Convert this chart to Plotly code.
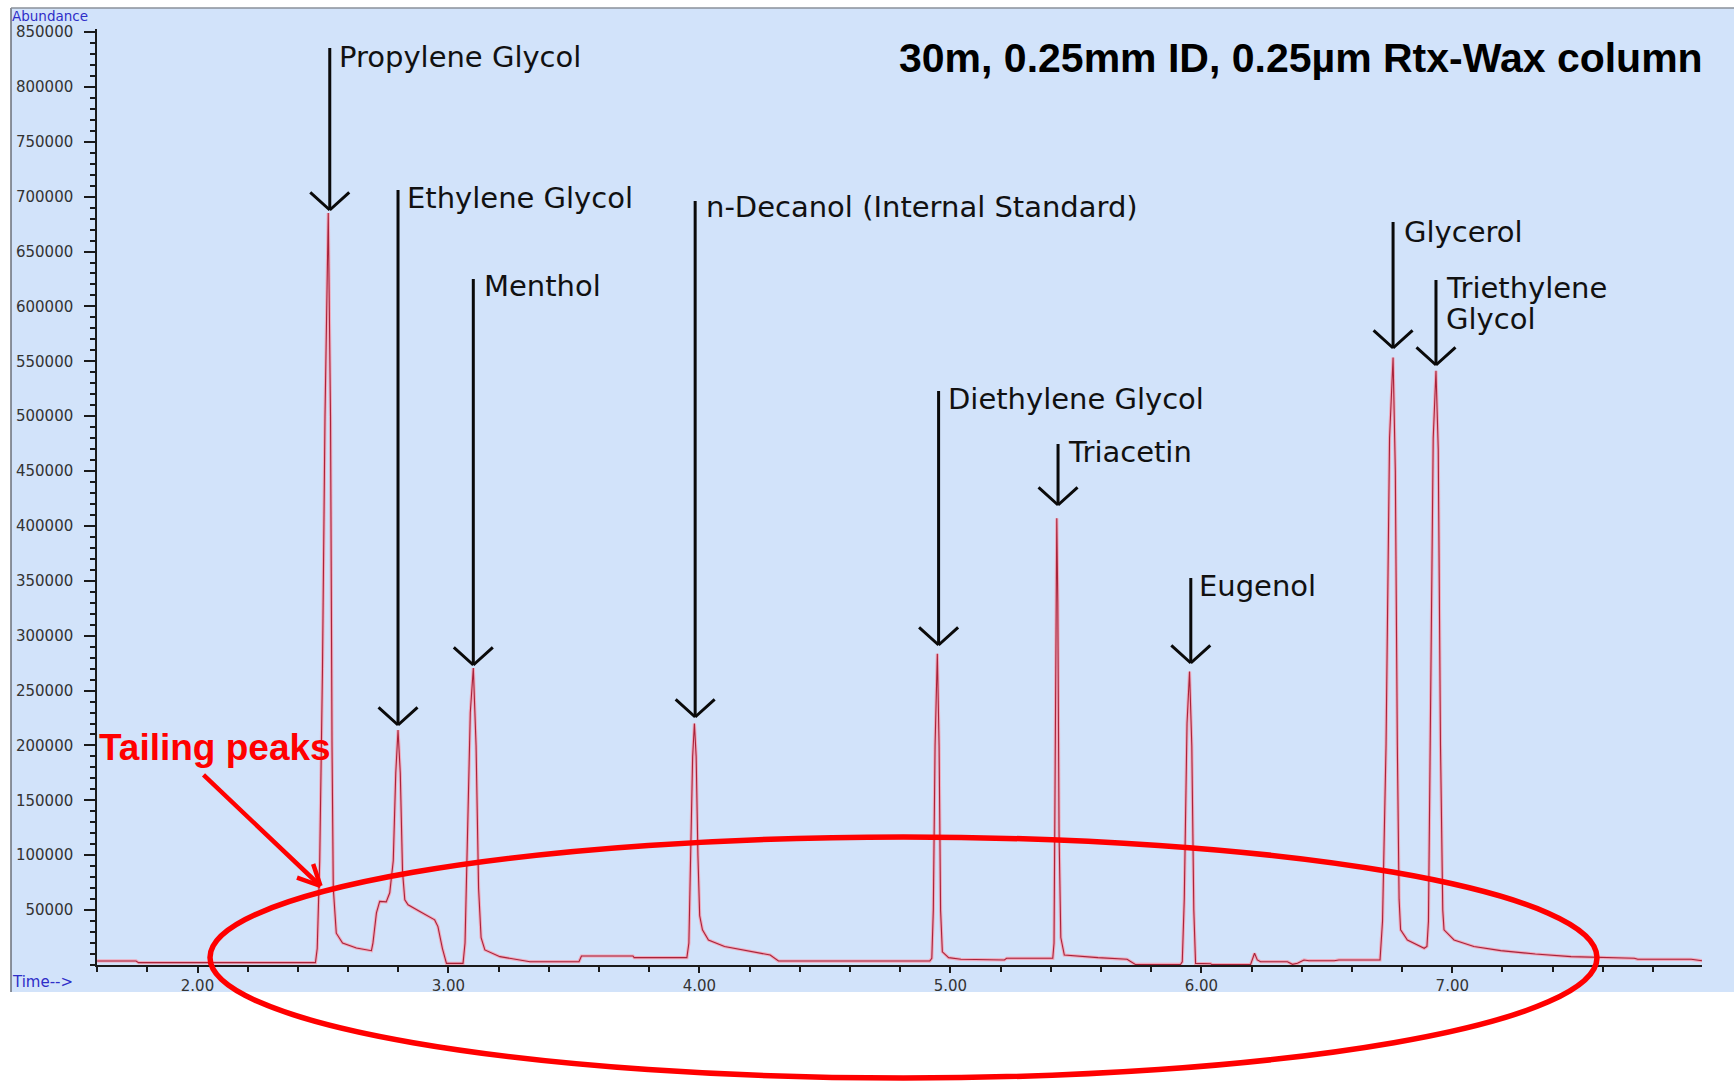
import plotly.graph_objects as go

# ---------------- data ----------------
time_min = [
    1.600, 1.755, 1.765, 2.470,
    2.477, 2.487, 2.498, 2.508, 2.521, 2.530, 2.536, 2.541, 2.553, 2.578, 2.633, 2.693,
    2.699, 2.713, 2.726, 2.752, 2.766,
    2.780, 2.790, 2.799, 2.808, 2.817, 2.826, 2.839, 2.886, 2.945, 2.958, 2.976, 2.992, 3.058,
    3.066, 3.076, 3.087, 3.099, 3.110, 3.120, 3.130, 3.145, 3.205, 3.325, 3.520, 3.530, 3.735, 3.740, 3.950,
    3.958, 3.966, 3.973, 3.980, 3.987, 3.994, 4.001, 4.012, 4.036, 4.100, 4.282, 4.315, 4.918,
    4.926, 4.932, 4.939, 4.948, 4.955, 4.961, 4.968, 4.993, 5.042, 5.215, 5.224, 5.408,
    5.413, 5.417, 5.421, 5.424, 5.428, 5.433, 5.440, 5.454, 5.588, 5.704, 5.737, 5.917,
    5.924, 5.932, 5.943, 5.953, 5.962, 5.970, 5.977, 6.037, 6.042, 6.196, 6.212, 6.223, 6.236,
    6.343, 6.363, 6.383, 6.409, 6.429, 6.529, 6.548, 6.712,
    6.722, 6.736, 6.750, 6.764, 6.773, 6.781, 6.788, 6.794, 6.821, 6.888, 6.899,
    6.905, 6.914, 6.924, 6.935, 6.944, 6.953, 6.962, 6.967, 7.007, 7.086, 7.193, 7.331, 7.473,
    7.725, 7.739, 7.952, 7.965, 7.995,
]
abundance = [
    3700, 3700, 2200, 2200,
    15000, 95000, 270000, 500000, 685000, 500000, 200000, 70000, 29000, 20000, 15500, 13000,
    20000, 47500, 58000, 57500, 65800,
    95000, 175000, 214000, 175000, 85000, 59400, 54800, 48700, 41100, 35000, 15000, 1500, 1500,
    20000, 110000, 230000, 270500, 200000, 70000, 25000, 13700, 7600, 3000, 3000, 8200, 8200, 6700, 6700,
    20000, 100000, 190000, 220000, 190000, 100000, 45000, 32000, 22800, 16800, 9100, 3600, 3600,
    6100, 50000, 200000, 283600, 200000, 50000, 12000, 6700, 5200, 4600, 6100, 6100,
    20000, 150000, 350000, 407000, 330000, 120000, 25000, 9100, 6700, 5200, 500, 500,
    3000, 60000, 220000, 267400, 200000, 50000, 1500, 1200, 300, 300, 10700, 4600, 3000,
    3000, 600, 1500, 4600, 3900, 3900, 4600, 4600,
    40000, 200000, 480000, 553500, 450000, 200000, 60000, 32000, 22800, 15200, 17000,
    40000, 250000, 480000, 541400, 470000, 200000, 50000, 32000, 22800, 16800, 13100, 10000, 7600,
    6100, 5200, 5200, 4600, 3900,
]

compounds = [
    ["Propylene Glycol"],
    ["Ethylene Glycol"],
    ["Menthol"],
    ["n-Decanol (Internal Standard)"],
    ["Diethylene Glycol"],
    ["Triacetin"],
    ["Eugenol"],
    ["Glycerol"],
    ["Triethylene", "Glycol"],
]
retention = [2.527, 2.799, 3.099, 3.983, 4.953, 5.429, 5.958, 6.764, 6.935]

y_tick_vals = list(range(50000, 850001, 50000))
y_tick_text = [str(v) for v in y_tick_vals]
x_tick_vals = [2, 3, 4, 5, 6, 7]
x_tick_text = ["2.00", "3.00", "4.00", "5.00", "6.00", "7.00"]

# ---------------- layout geometry (pixels) ----------------
W, H = 1734, 1081
L, R, T, B = 97, 32, 29, 116
PW, PH = W - L - R, H - T - B
X0 = L
Y0 = H - B


def px(xp):
    return (xp - X0) / PW


def py(yp):
    return (Y0 - yp) / PH


PANEL = "#d2e3fa"
TXT = "#111111"

fig = go.Figure()
fig.add_trace(go.Scatter(x=time_min, y=abundance, mode="lines",
                         line=dict(color="rgba(246,160,178,0.85)", width=3.2),
                         hoverinfo="skip", showlegend=False))
fig.add_trace(go.Scatter(x=time_min, y=abundance, mode="lines",
                         line=dict(color="#a8233a", width=1.1),
                         hoverinfo="skip", showlegend=False))

shapes = [
    dict(type="rect", xref="paper", yref="paper", x0=px(11), x1=px(1740), y0=py(992), y1=py(8),
         fillcolor=PANEL, line=dict(width=0), layer="below"),
    dict(type="line", xref="paper", yref="paper", x0=px(11), x1=px(11), y0=py(992), y1=py(8),
         line=dict(color="#6a6f78", width=1.5), layer="below"),
    dict(type="line", xref="paper", yref="paper", x0=px(11), x1=px(1740), y0=py(8), y1=py(8),
         line=dict(color="#8a909a", width=1.5), layer="below"),
    dict(type="circle", xref="paper", yref="paper", x0=px(210), x1=px(1597), y0=py(1078), y1=py(837),
         line=dict(color="#ff0000", width=5.5), layer="above"),
]

annotations = []

# arrows for peaks: tip / top pixel rows
tip_rows = [210, 725, 665, 717, 645, 505, 663, 348, 365]
top_rows = [46, 188, 277, 199, 389, 442, 576, 220, 278]
label_left = [337, 405, 482, 704, 946, 1066, 1197, 1402, 1444]
label_row = [57, 198, 286, 207, 399, 452, 586, 232, 288]

for i, rt in enumerate(retention):
    tip = py(tip_rows[i])
    for ax, ay in [(0, -(tip_rows[i] - top_rows[i])), (-21, -19), (21, -19)]:
        annotations.append(dict(x=rt, xref="x", y=tip, yref="paper", text=" ", showarrow=True,
                                arrowhead=0, arrowwidth=3, arrowcolor="#0a0a0a", ax=ax, ay=ay,
                                font=dict(size=1)))
    for j, line in enumerate(compounds[i]):
        annotations.append(dict(x=px(label_left[i]), xref="paper", y=py(label_row[i] + 31 * j), yref="paper",
                                text=line, showarrow=False, xanchor="left", yanchor="middle",
                                font=dict(family="DejaVu Sans", size=29, color=TXT)))

# title-like note
annotations.append(dict(x=px(897), xref="paper", y=py(58), yref="paper",
                        text="<b>30m, 0.25mm ID, 0.25µm Rtx-Wax column</b>", showarrow=False,
                        xanchor="left", yanchor="middle",
                        font=dict(family="Liberation Sans", size=41, color="#000000")))

# Tailing peaks note + red arrow
annotations.append(dict(x=px(97), xref="paper", y=py(747), yref="paper",
                        text="<b>Tailing peaks</b>", showarrow=False, xanchor="left", yanchor="middle",
                        font=dict(family="Liberation Sans", size=37, color="#ff0000")))
red_tip = (320.5, 886)
for ax, ay in [(202 - 320.5, 773.5 - 886), (-8, -24), (-25, -9)]:
    annotations.append(dict(x=px(red_tip[0]), xref="paper", y=py(red_tip[1]), yref="paper", text=" ",
                            showarrow=True, arrowhead=0, arrowwidth=4.5, arrowcolor="#ff0000",
                            ax=ax, ay=ay, font=dict(size=1)))

# axis captions
annotations.append(dict(x=px(10), xref="paper", y=py(15.5), yref="paper", text="Abundance",
                        showarrow=False, xanchor="left", yanchor="middle",
                        font=dict(family="DejaVu Sans", size=13.5, color="#2e2ec8")))
annotations.append(dict(x=px(10), xref="paper", y=py(982), yref="paper", text="Time-->",
                        showarrow=False, xanchor="left", yanchor="middle",
                        font=dict(family="DejaVu Sans", size=15, color="#2e2ec8")))

fig.update_layout(
    width=W, height=H,
    margin=dict(l=L, r=R, t=T, b=B, pad=0),
    paper_bgcolor="white", plot_bgcolor=PANEL,
    shapes=shapes, annotations=annotations,
    hovermode=False, showlegend=False,
    xaxis=dict(range=[1.5995, 7.995], showgrid=False, zeroline=False,
               showline=True, linecolor="#1a1a1a", linewidth=1.5,
               tickmode="array", tickvals=x_tick_vals, ticktext=x_tick_text,
               ticks="outside", ticklen=6, tickwidth=1.5, tickcolor="#1a1a1a",
               tickfont=dict(family="DejaVu Sans", size=15, color="#333333"),
               minor=dict(dtick=0.2, tick0=0, ticks="outside", ticklen=5, tickwidth=1.5,
                          tickcolor="#1a1a1a", showgrid=False),
               fixedrange=True),
    yaxis=dict(range=[0, 850000 * 936 / 933], showgrid=False, zeroline=False,
               showline=True, linecolor="#1a1a1a", linewidth=1.5,
               tickmode="array", tickvals=y_tick_vals, ticktext=y_tick_text,
               ticks="outside", ticklen=11, tickwidth=1.5, tickcolor="#1a1a1a",
               ticklabelstandoff=8,
               tickfont=dict(family="DejaVu Sans", size=15, color="#333333"),
               minor=dict(dtick=10000, tick0=0, ticks="outside", ticklen=5, tickwidth=1.5,
                          tickcolor="#1a1a1a", showgrid=False),
               fixedrange=True),
)

fig.write_html("out.html", config={"displayModeBar": False})
